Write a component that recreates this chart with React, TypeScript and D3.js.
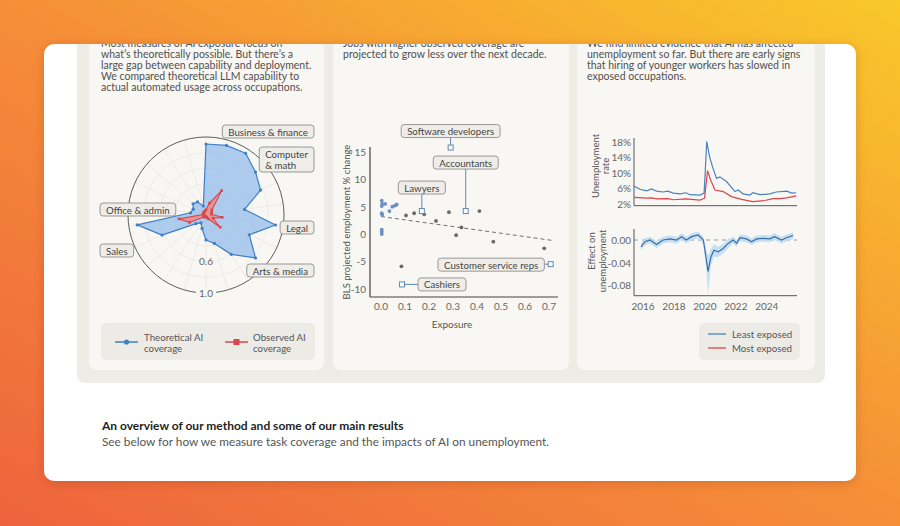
import React from "react";
import * as d3 from "d3";

// ---------------- DATA ----------------
const radarCategories = [
  "Management", "Business & finance", "Computer & math", "Architecture & engineering",
  "Life & social science", "Community & social service", "Legal", "Education & library",
  "Arts & media", "Healthcare practitioners", "Healthcare support", "Protective service",
  "Food preparation", "Building & grounds", "Personal care", "Sales", "Office & admin",
  "Farming & fishing", "Construction", "Installation & repair", "Production", "Transportation",
];
const theoreticalCoverage = [0.91, 0.93, 0.94, 0.84, 0.77, 0.5, 0.9, 0.61, 0.84, 0.6, 0.38, 0.32, 0.18, 0.12, 0.17, 0.62, 0.89, 0.2, 0.18, 0.22, 0.2, 0.12];
const observedCoverage = [0.07, 0.16, 0.37, 0.1, 0.08, 0.07, 0.21, 0.1, 0.24, 0.06, 0.03, 0.03, 0.02, 0.02, 0.04, 0.23, 0.35, 0.04, 0.03, 0.04, 0.05, 0.05];
const radarTickValues = [0.6, 1.0];

const scatterExposure = [0.003, 0.005, 0.017, 0.003, 0.047, 0.058, 0.065, 0.003, 0.005, 0.035, 0.104, 0.138, 0.18, 0.229, 0.283, 0.41, 0.335, 0.313, 0.468, 0.68, 0.003, 0.003, 0.003, 0.085];
const scatterGrowth = [6.1, 5.5, 5.5, 5.1, 5.0, 5.2, 5.4, 3.8, 3.5, 4.2, 3.4, 3.8, 3.6, 2.4, 4.0, 4.2, 1.2, -0.2, -1.4, -2.6, 0.8, 0.4, 0.0, -5.9];
const labeledOccupations = ["Software developers", "Accountants", "Lawyers", "Customer service reps", "Cashiers"];
const labeledExposure = [0.29, 0.353, 0.17, 0.707, 0.0875];
const labeledGrowth = [15.8, 4.2, 4.2, -5.5, -9.2];
const trendExposure = [0, 0.72];
const trendGrowth = [3.2, -1.2];
const scatterXTicks = [0, 0.1, 0.2, 0.3, 0.4, 0.5, 0.6, 0.7];
const scatterYTicks = [15, 10, 5, 0, -5, -10];

const leastYears = [2015.44, 2015.8, 2016.24, 2016.56, 2016.88, 2017.3, 2017.6, 2017.96, 2018.4, 2018.77, 2019.03, 2019.68, 2019.95, 2020.12, 2020.3, 2020.5, 2020.75, 2020.97, 2021.4, 2021.94, 2022.15, 2022.47, 2022.9, 2023.1, 2023.55, 2024.2, 2024.6, 2025.3, 2025.6, 2025.9];
const leastUnemp = [6.6, 5.8, 5.4, 5.9, 5.3, 5.1, 5.3, 4.8, 4.6, 4.9, 4.4, 4.3, 4.8, 18.1, 14.2, 11.5, 8.6, 9.0, 7.8, 5.2, 5.6, 4.6, 4.3, 4.9, 4.4, 4.6, 5.1, 5.3, 4.8, 4.9];
const mostYears = [2015.44, 2016.24, 2016.56, 2016.88, 2017.6, 2017.96, 2018.77, 2019.68, 2019.98, 2020.17, 2020.37, 2020.65, 2021.18, 2021.72, 2022.37, 2023.1, 2023.87, 2024.4, 2024.84, 2025.27, 2025.9];
const mostUnemp = [3.7, 3.5, 3.6, 3.3, 3.4, 3.1, 3.3, 3.0, 3.5, 10.6, 8.2, 5.6, 5.2, 3.9, 3.2, 2.6, 2.9, 3.4, 3.4, 3.6, 4.1];

const effectYears = [2015.87, 2016.13, 2016.45, 2016.88, 2017.3, 2017.74, 2018.17, 2018.5, 2018.8, 2019.14, 2019.57, 2019.9, 2020.1, 2020.2, 2020.39, 2020.58, 2020.86, 2021.18, 2021.5, 2021.83, 2022.05, 2022.26, 2022.69, 2023.01, 2023.34, 2023.76, 2024.19, 2024.5, 2024.95, 2025.27, 2025.7];
const effectValue = [-0.012, -0.003, 0.0, -0.008, 0.0, 0.002, 0.0, 0.006, 0.0, 0.006, 0.009, 0.0, -0.036, -0.056, -0.03, -0.018, -0.021, -0.015, -0.006, 0.0, -0.006, 0.004, 0.002, -0.003, 0.002, 0.003, 0.002, 0.006, 0.0, 0.004, 0.008];
const effectLow = [-0.018, -0.009, -0.006, -0.014, -0.006, -0.004, -0.006, 0.0, -0.006, 0.0, 0.003, -0.008, -0.055, -0.097, -0.045, -0.03, -0.03, -0.024, -0.014, -0.006, -0.012, -0.002, -0.004, -0.009, -0.004, -0.003, -0.004, 0.0, -0.006, -0.002, 0.002];
const effectHigh = [-0.006, 0.003, 0.006, -0.002, 0.006, 0.008, 0.006, 0.012, 0.006, 0.012, 0.015, 0.006, -0.018, -0.028, -0.016, -0.007, -0.012, -0.007, 0.002, 0.006, 0.0, 0.01, 0.008, 0.003, 0.008, 0.009, 0.008, 0.012, 0.006, 0.01, 0.014];
const unempTicks = [2, 6, 10, 14, 18];
const effectTicks = [0, -0.04, -0.08];
const yearTicks = [2016, 2018, 2020, 2022, 2024];

const panelTexts = [
  ["Most measures of AI exposure focus on", "what’s theoretically possible. But there’s a", "large gap between capability and deployment.", "We compared theoretical LLM capability to", "actual automated usage across occupations."],
  ["Jobs with higher observed coverage are", "projected to grow less over the next decade."],
  ["We find limited evidence that AI has affected", "unemployment so far. But there are early signs", "that hiring of younger workers has slowed in", "exposed occupations."],
];

// ---------------- STYLE / LAYOUT ----------------
const FONT = "Lato, 'Open Sans', sans-serif";
const BLUE = "#3f7fc6";
const RED = "#d8474a";
const TICK = "#666";
const BOX_FILL = "#efede9";
const BOX_STROKE = "#8e8e8a";
const PANEL = "#f8f7f3";

let _ctx: CanvasRenderingContext2D | null = null;
function measure(t: string, size: number, weight = 400) {
  if (!_ctx) _ctx = document.createElement("canvas").getContext("2d");
  _ctx!.font = `${weight} ${size}px ${FONT}`;
  return _ctx!.measureText(t).width;
}

const radarLabelLayout = [
  { lines: ["Business & finance"], side: "right", cy: 131.5 },
  { lines: ["Computer", "& math"], side: "right", cy: 159.5 },
  { lines: ["Legal"], side: "right", cy: 227.5 },
  { lines: ["Arts & media"], side: "right", cy: 270.5 },
  { lines: ["Office & admin"], side: "left", cy: 209.5 },
  { lines: ["Sales"], side: "left", cy: 250.5 },
];
const scatterLabelLayout = [
  { dx: 0, dy: -16.5, dir: "up" },
  { dx: 0, dy: -48.5, dir: "up" },
  { dx: 0, dy: -23.5, dir: "up" },
  { dx: -59.5, dy: 0.5, dir: "right" },
  { dx: 40, dy: 0, dir: "left" },
];

function LabelBox({ cx, cy, lines, size = 9.7, x0 }: any) {
  const w = Math.max(...lines.map((l: string) => measure(l, size))) + 12;
  const h = lines.length === 1 ? 13 : 25;
  const left = x0 !== undefined ? x0 : cx - w / 2;
  return (
    <g>
      <rect x={left} y={cy - h / 2} width={w} height={h} rx={3} fill={BOX_FILL} stroke={BOX_STROKE} strokeWidth={0.9} />
      {lines.map((l: string, i: number) => (
        <text key={i} x={lines.length > 1 ? left + 6 : left + w / 2} y={cy - (lines.length - 1) * 5.25 + i * 10.5}
          dominantBaseline="central" textAnchor={lines.length > 1 ? "start" : "middle"} fontSize={size} fill="#444" fontFamily={FONT}>{l}</text>
      ))}
    </g>
  );
}

function Radar() {
  const cx = 206, cy = 215, R = 78;
  const r = d3.scaleLinear().domain([0, 1]).range([0, R]);
  const n = radarCategories.length;
  const step = (2 * Math.PI) / n;
  const radial = d3.lineRadial<number>().angle((_, i) => i * step).radius((d) => r(d)).curve(d3.curveLinearClosed);
  const pt = (v: number, i: number) => [cx + r(v) * Math.sin(i * step), cy - r(v) * Math.cos(i * step)];
  return (
    <g>
      {radarCategories.map((_, i) => {
        const [x, y] = pt(1, i);
        return <line key={i} x1={cx} y1={cy} x2={x} y2={y} stroke="#ebe8e3" strokeWidth={0.8} />;
      })}
      {[0.2, 0.4, 0.6, 0.8].map((v) => <circle key={v} cx={cx} cy={cy} r={r(v)} fill="none" stroke="#ebe8e3" strokeWidth={0.8} />)}
      <circle cx={cx} cy={cy} r={R} fill="none" stroke="#5c5c5c" strokeWidth={1} />
      <path transform={`translate(${cx},${cy})`} d={radial(theoreticalCoverage)!} fill="#a3c5ec" fillOpacity={0.9} stroke={BLUE} strokeWidth={1.2} strokeLinejoin="round" />
      {theoreticalCoverage.map((v, i) => { const [x, y] = pt(v, i); return <circle key={i} cx={x} cy={y} r={1.6} fill={BLUE} />; })}
      <path transform={`translate(${cx},${cy})`} d={radial(observedCoverage)!} fill="#ee8a8a" fillOpacity={0.85} stroke={RED} strokeWidth={1.1} strokeLinejoin="round" />
      {observedCoverage.map((v, i) => { const [x, y] = pt(v, i); return <rect key={i} x={x - 1.3} y={y - 1.3} width={2.6} height={2.6} fill={RED} />; })}
      {radarTickValues.map((v) => {
        const y = cy + r(v);
        return (
          <g key={v}>
            {v === 1 && <rect x={cx - 10} y={y - 5} width={20} height={10} fill={PANEL} />}
            <text x={cx} y={v === 1 ? y : y - 0.5} textAnchor="middle" dominantBaseline="central" fontSize={10} fill={TICK} fontFamily={FONT}>{v.toFixed(1)}</text>
          </g>
        );
      })}
      {radarLabelLayout.map((l, i) => {
        const w = Math.max(...l.lines.map((s) => measure(s, 9.7))) + 12;
        const x0 = l.side === "right" ? 314 - w : 100;
        return <LabelBox key={i} cy={l.cy} lines={l.lines} x0={x0} />;
      })}
      <rect x={101} y={323} width={214} height={37} rx={5} fill="#edebe6" />
      <line x1={115} x2={138} y1={342} y2={342} stroke={BLUE} strokeWidth={1.3} />
      <circle cx={126.5} cy={342} r={2.6} fill={BLUE} />
      <text x={144} y={337} dominantBaseline="central" fontSize={9.7} fill="#555" fontFamily={FONT}>Theoretical AI</text>
      <text x={144} y={347.5} dominantBaseline="central" fontSize={9.7} fill="#555" fontFamily={FONT}>coverage</text>
      <line x1={225} x2={248} y1={342} y2={342} stroke={RED} strokeWidth={1.3} />
      <rect x={233.5} y={339} width={6} height={6} fill={RED} />
      <text x={253} y={337} dominantBaseline="central" fontSize={9.7} fill="#555" fontFamily={FONT}>Observed AI</text>
      <text x={253} y={347.5} dominantBaseline="central" fontSize={9.7} fill="#555" fontFamily={FONT}>coverage</text>
    </g>
  );
}

function Scatter() {
  const x = d3.scaleLinear().domain([-0.046, 0.7375]).range([370, 558]);
  const y = d3.scaleLinear().domain([-11.5, 15.9]).range([297, 147]);
  const LEADER = "#5f88b5";
  return (
    <g fontFamily={FONT}>
      <line x1={370} x2={370} y1={147} y2={297} stroke="#444" strokeWidth={1.2} />
      <line x1={370} x2={558} y1={297} y2={297} stroke="#444" strokeWidth={1.2} />
      {scatterXTicks.map((t) => <text key={t} x={x(t)} y={305.5} textAnchor="middle" dominantBaseline="central" fontSize={10} fill={TICK}>{t.toFixed(1)}</text>)}
      {scatterYTicks.map((t) => <text key={t} x={366} y={y(t)} textAnchor="end" dominantBaseline="central" fontSize={10} fill={TICK}>{t}</text>)}
      <text x={452} y={324} textAnchor="middle" dominantBaseline="central" fontSize={10} fill="#555">Exposure</text>
      <text transform="translate(346,222) rotate(-90)" textAnchor="middle" dominantBaseline="central" fontSize={9.5} fill="#555">BLS projected employment % change</text>
      <line x1={x(trendExposure[0])} y1={y(trendGrowth[0])} x2={x(trendExposure[1])} y2={y(trendGrowth[1])} stroke="#707070" strokeWidth={1} strokeDasharray="4 3" />
      {scatterExposure.map((e, i) => (
        <circle key={i} cx={x(e)} cy={y(scatterGrowth[i])} r={1.9} fill={e < 0.07 ? "#6b8fc0" : "#6a6a6a"} />
      ))}
      {labeledOccupations.map((name, i) => {
        const px = x(labeledExposure[i]), py = y(labeledGrowth[i]);
        const L = scatterLabelLayout[i];
        const w = measure(name, 9.7) + 12;
        const bx = px + L.dx, by = py + L.dy;
        let leader;
        if (L.dir === "up") leader = <line x1={px} y1={by + 6.5} x2={px} y2={py - 2.5} stroke={LEADER} strokeWidth={1} />;
        else if (L.dir === "right") leader = <line x1={bx + w / 2} y1={py} x2={px - 2.5} y2={py} stroke={LEADER} strokeWidth={1} />;
        else leader = <line x1={bx - w / 2} y1={py} x2={px + 2.5} y2={py} stroke={LEADER} strokeWidth={1} />;
        return (
          <g key={name}>
            {leader}
            <rect x={px - 2.5} y={py - 2.5} width={5} height={5} fill="#fff" stroke={LEADER} strokeWidth={1} />
            <LabelBox cx={bx} cy={by} lines={[name]} />
          </g>
        );
      })}
    </g>
  );
}

function Lines() {
  const x = d3.scaleLinear().domain([2015.42, 2025.95]).range([634, 797]);
  const yTop = d3.scaleLinear().domain([1.56, 19.03]).range([205.7, 138]);
  const yBot = d3.scaleLinear().domain([-0.099, 0.0196]).range([295.7, 229]);
  const mk = (ys: number[], vs: number[], sc: any) =>
    d3.line<number>().x((_, i) => x(ys[i])).y((d) => sc(d)).curve(d3.curveLinear)(vs)!;
  const band = d3.area<number>().x((_, i) => x(effectYears[i])).y0((_, i) => yBot(effectLow[i])).y1((_, i) => yBot(effectHigh[i]))(effectValue)!;
  return (
    <g fontFamily={FONT}>
      <line x1={634} x2={634} y1={138} y2={205.7} stroke="#555" strokeWidth={1} />
      <line x1={634} x2={797} y1={205.7} y2={205.7} stroke="#555" strokeWidth={1} />
      {unempTicks.map((t) => <text key={t} x={631} y={yTop(t)} textAnchor="end" dominantBaseline="central" fontSize={10} fill={TICK}>{t}%</text>)}
      <path d={mk(leastYears, leastUnemp, yTop)} fill="none" stroke="#4a83bd" strokeWidth={1.2} />
      <path d={mk(mostYears, mostUnemp, yTop)} fill="none" stroke={RED} strokeWidth={1.2} />
      <text transform="translate(595,166) rotate(-90)" textAnchor="middle" dominantBaseline="central" fontSize={9.5} fill="#555">Unemployment</text>
      <text transform="translate(605.5,166) rotate(-90)" textAnchor="middle" dominantBaseline="central" fontSize={9.5} fill="#555">rate</text>
      <line x1={634} x2={797} y1={yBot(0)} y2={yBot(0)} stroke="#999" strokeWidth={1} strokeDasharray="4 4" />
      <path d={band} fill="#bcdcf2" fillOpacity={0.85} />
      <path d={mk(effectYears, effectValue, yBot)} fill="none" stroke="#3b6ea8" strokeWidth={1.2} />
      <line x1={634} x2={634} y1={229} y2={295.7} stroke="#555" strokeWidth={1} />
      <line x1={634} x2={797} y1={295.7} y2={295.7} stroke="#555" strokeWidth={1} />
      {effectTicks.map((t) => <text key={t} x={631} y={yBot(t)} textAnchor="end" dominantBaseline="central" fontSize={10} fill={TICK}>{t.toFixed(2)}</text>)}
      {yearTicks.map((t) => <text key={t} x={x(t)} y={305.5} textAnchor="middle" dominantBaseline="central" fontSize={10} fill={TICK}>{t}</text>)}
      <text transform="translate(591.5,251) rotate(-90)" textAnchor="middle" dominantBaseline="central" fontSize={9.5} fill="#555">Effect on</text>
      <text transform="translate(602.5,261) rotate(-90)" textAnchor="middle" dominantBaseline="central" fontSize={9.5} fill="#555">unemployment</text>
      <rect x={699} y={323} width={101} height={37} rx={5} fill="#edebe6" />
      <line x1={708} x2={726} y1={334} y2={334} stroke="#4a83bd" strokeWidth={1.3} />
      <text x={732} y={334} dominantBaseline="central" fontSize={9.7} fill="#555">Least exposed</text>
      <line x1={708} x2={726} y1={348} y2={348} stroke={RED} strokeWidth={1.3} />
      <text x={732} y={348} dominantBaseline="central" fontSize={9.7} fill="#555">Most exposed</text>
    </g>
  );
}

export default function App() {
  const panels = [[89, 324], [333, 569], [577, 815]];
  const textX = [101, 343, 587];
  return (
    <svg width={900} height={526} style={{ position: "absolute", left: 0, top: 0, display: "block" }}>
      <defs>
        <linearGradient id="bg" x1="0" y1="1" x2="1" y2="0">
          <stop offset="0%" stopColor="#ee633d" />
          <stop offset="50%" stopColor="#f58e38" />
          <stop offset="100%" stopColor="#f9c82a" />
        </linearGradient>
        <clipPath id="card"><rect x={44} y={44} width={812} height={437} rx={10} /></clipPath>
        <filter id="sh" x="-10%" y="-10%" width="120%" height="130%">
          <feDropShadow dx="0" dy="2" stdDeviation="5" floodColor="#7a3000" floodOpacity="0.25" />
        </filter>
      </defs>
      <rect x={0} y={0} width={900} height={526} fill="url(#bg)" />
      <rect x={44} y={44} width={812} height={437} rx={10} fill="#fff" filter="url(#sh)" />
      <g clipPath="url(#card)">
        <rect x={77} y={20} width={748} height={363} rx={8} fill="#eeece7" />
        {panels.map(([a, b], i) => <rect key={i} x={a} y={20} width={b - a} height={350} rx={8} fill={PANEL} />)}
        {panelTexts.map((lines, p) => lines.map((t, i) => (
          <text key={p + "-" + i} x={textX[p]} y={42.5 + i * 11} dominantBaseline="central" fontSize={10.5} fill="#505050" fontFamily={FONT}>{t}</text>
        )))}
        <Radar />
        <Scatter />
        <Lines />
        <text x={102} y={425} dominantBaseline="central" fontSize={12} fontWeight={700} fill="#1f1f1f" fontFamily={FONT}>An overview of our method and some of our main results</text>
        <text x={102} y={441.5} dominantBaseline="central" fontSize={11.8} fill="#555" fontFamily={FONT}>See below for how we measure task coverage and the impacts of AI on unemployment.</text>
      </g>
    </svg>
  );
}
